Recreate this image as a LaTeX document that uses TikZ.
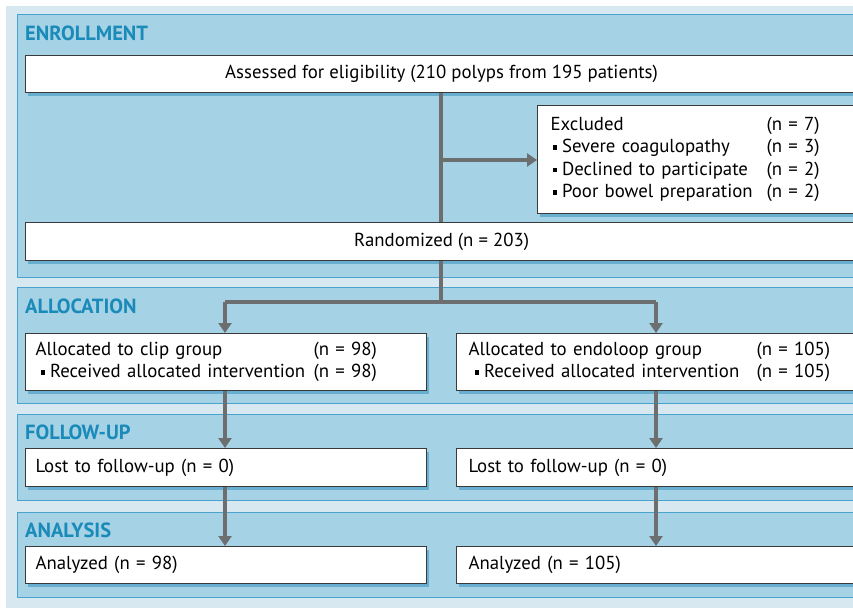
\documentclass[tikz,border=0pt]{standalone}
\usepackage{fontspec}
\setmainfont{PT Sans}
\usetikzlibrary{arrows.meta,shadows}
\definecolor{outerbg}{HTML}{D8E8F1}
\definecolor{panelbg}{HTML}{A6D2E6}
\definecolor{panelline}{HTML}{4AA3CE}
\definecolor{headcol}{HTML}{1A8AB8}
\definecolor{flowgray}{HTML}{6D6E70}
\definecolor{boxline}{HTML}{3A3A3A}
\definecolor{shadowcol}{HTML}{4E9FC8}
\newcommand{\bul}{\rule[3pt]{4.5pt}{4.5pt}}
\begin{document}
\begin{tikzpicture}[x=1pt,y=-1pt,
  panel/.style={fill=panelbg,draw=panelline,line width=1pt},
  heading/.style={anchor=base west,inner sep=0pt,text=headcol,font=\fontsize{20.5}{24}\selectfont\bfseries},
  box/.style={draw=boxline,line width=1.1pt,fill=white,anchor=north west,inner sep=0pt,
    font=\fontsize{18.8}{22.5}\selectfont,
    drop shadow={shadow xshift=2pt,shadow yshift=-3pt,fill=shadowcol,opacity=0.7}},
  lbox/.style={box,align=left},
  flow/.style={draw=flowgray,line width=4pt},
  arr/.style={flow,-{Triangle[width=13pt,length=10pt]}}
]
\useasboundingbox (0,0) rectangle (853,609);
\clip (0,0) rectangle (853,609);
\fill[outerbg] (6,6) rectangle (880,608);
\draw[panel] (17,15) rectangle (880,278);
\draw[panel] (17,288) rectangle (880,403);
\draw[panel] (17,414) rectangle (880,500);
\draw[panel] (17,512) rectangle (880,597);

\node[heading] (h1) at (25,41) {ENROLLMENT};
\node[heading] (h2) at (25,313) {ALLOCATION};
\node[heading] (h3) at (25,439) {FOLLOW-UP};
\node[heading] (h4) at (25,537) {ANALYSIS};

\node[box,minimum width=832pt,minimum height=37pt] (assess) at (25,55)
  {Assessed for eligibility (210 polyps from 195 patients)};
\node[lbox,minimum width=340pt,minimum height=108pt,inner xsep=13pt,text width=314pt] (excl) at (537,105)
  {\begin{tabular}{@{}p{216pt}@{}l@{}}
   Excluded & (n = 7)\\
   \hspace*{2pt}\bul\hspace{5pt}Severe coagulopathy & (n = 3)\\
   \hspace*{2pt}\bul\hspace{5pt}Declined to participate & (n = 2)\\
   \hspace*{2pt}\bul\hspace{5pt}Poor bowel preparation & (n = 2)
   \end{tabular}};
\node[box,minimum width=832pt,minimum height=38pt] (rand) at (25,222)
  {Randomized (n = 203)};

\node[lbox,minimum width=401pt,minimum height=57pt,inner xsep=10pt,text width=381pt] (clip) at (25,333)
  {\begin{tabular}{@{}p{278pt}@{}l@{}}
   Allocated to clip group & (n = 98)\\
   \hspace*{5pt}\bul\hspace{5pt}Received allocated intervention & (n = 98)
   \end{tabular}};
\node[lbox,minimum width=414pt,minimum height=57pt,inner xsep=12pt,text width=390pt] (endo) at (456,333)
  {\begin{tabular}{@{}p{288pt}@{}l@{}}
   Allocated to endoloop group & (n = 105)\\
   \hspace*{6pt}\bul\hspace{5pt}Received allocated intervention & (n = 105)
   \end{tabular}};

\node[lbox,minimum width=401pt,minimum height=38pt,inner xsep=10pt,text width=381pt] (lostL) at (25,448)
  {Lost to follow-up (n = 0)};
\node[lbox,minimum width=414pt,minimum height=38pt,inner xsep=12pt,text width=390pt] (lostR) at (456,448)
  {Lost to follow-up (n = 0)};
\node[lbox,minimum width=401pt,minimum height=37pt,inner xsep=10pt,text width=381pt] (anaL) at (25,546)
  {Analyzed (n = 98)};
\node[lbox,minimum width=414pt,minimum height=37pt,inner xsep=12pt,text width=390pt] (anaR) at (456,546)
  {Analyzed (n = 105)};

\coordinate (br) at (441,160);
\coordinate (sp) at (441,302);
\coordinate (spL) at (225,302);
\coordinate (spR) at (656,302);
\draw[flow] (assess.south -| br) -- (rand.north -| br);
\draw[arr] (br) -- (excl.west |- br);
\draw[flow] (rand.south -| sp) -- (sp);
\draw[flow] (spL) -- (spR);
\draw[arr] (spL) -- (clip.north -| spL);
\draw[arr] (spR) -- (endo.north -| spR);
\draw[arr] (clip.south -| spL) -- (lostL.north -| spL);
\draw[arr] (endo.south -| spR) -- (lostR.north -| spR);
\draw[arr] (lostL.south -| spL) -- (anaL.north -| spL);
\draw[arr] (lostR.south -| spR) -- (anaR.north -| spR);
\end{tikzpicture}
\end{document}
